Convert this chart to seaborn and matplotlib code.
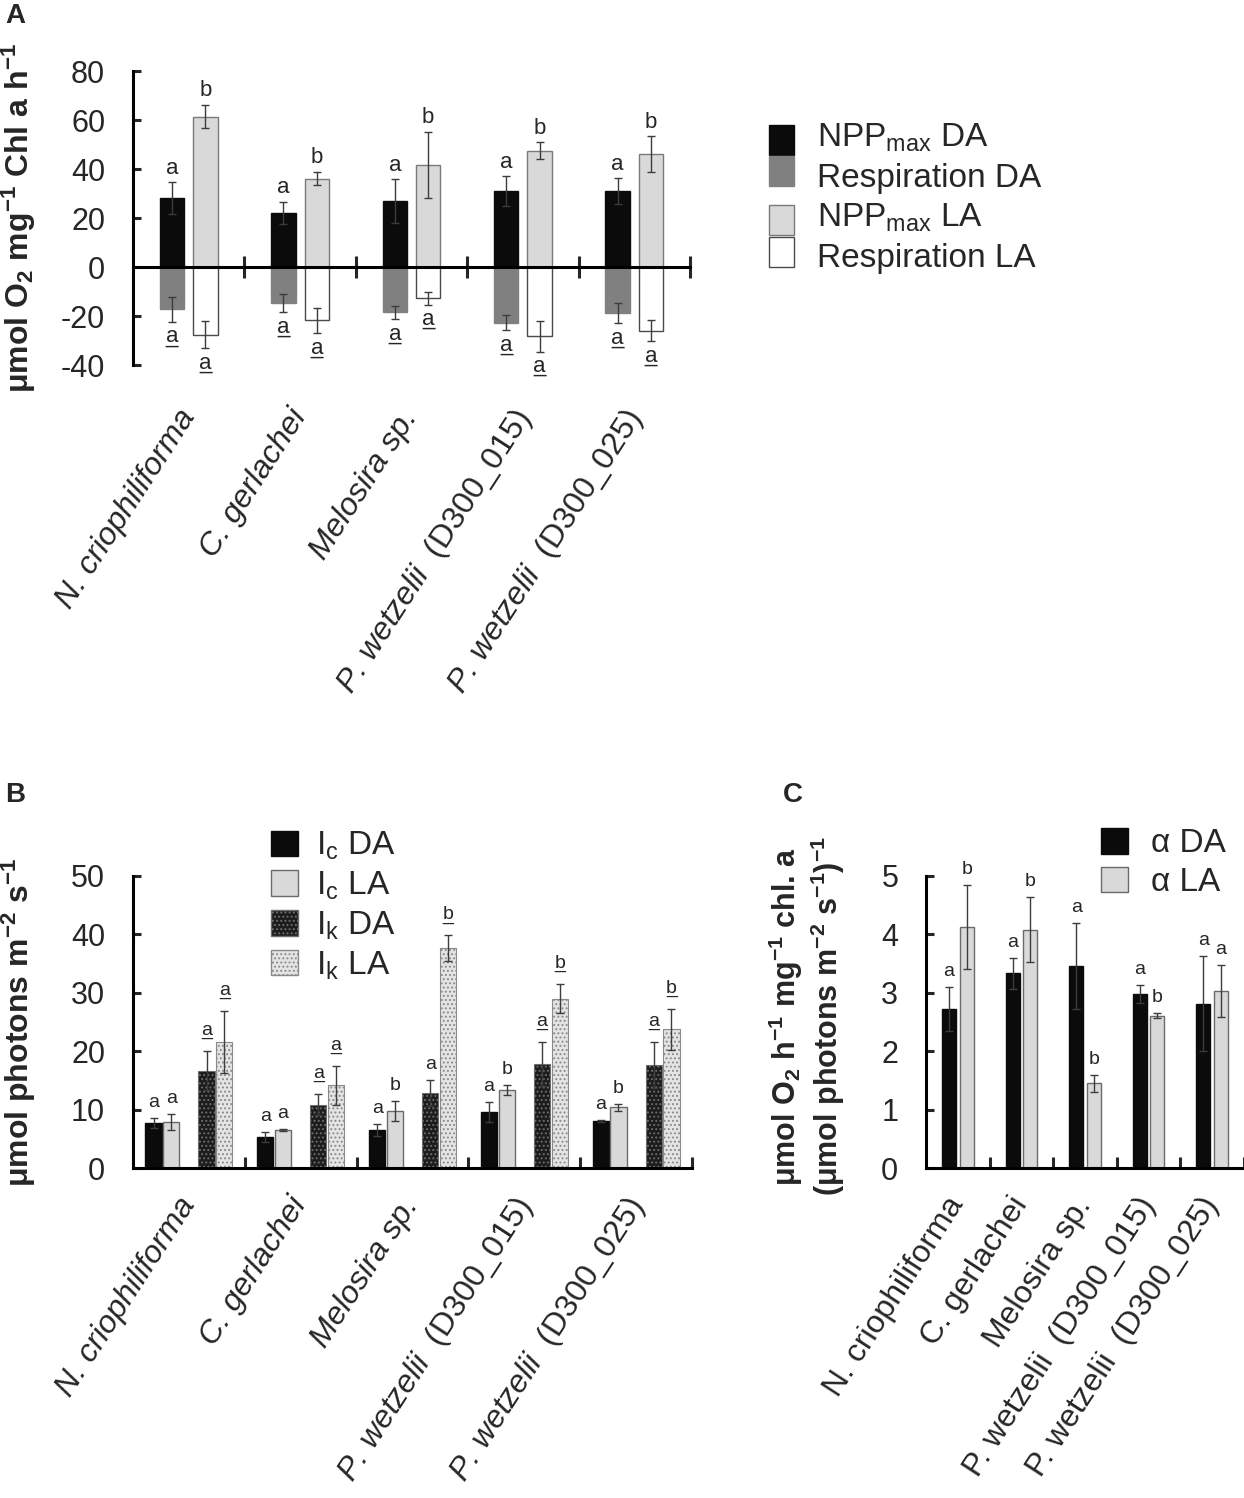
import matplotlib
matplotlib.use("Agg")
import matplotlib.pyplot as plt
import seaborn as sns
import pandas as pd
from matplotlib.patches import Patch, Rectangle
from matplotlib.legend_handler import HandlerPatch

# species on the x axis (italic part, then strain in brackets)
species = ["N. criophiliforma", "C. gerlachei", "Melosira sp.",
           "P. wetzelii  (D300_015)", "P. wetzelii  (D300_025)"]

# Panel A: NPPmax and respiration, dark (DA) / light (LA) acclimated
npp_da = [28.2, 22.2, 26.9, 31.0, 31.0]
npp_da_err = [6.5, 4.5, 9.0, 6.1, 5.3]
npp_la = [61.4, 36.1, 41.8, 47.5, 46.1]
npp_la_err = [4.8, 2.8, 13.5, 3.5, 7.4]
resp_da = [-17.3, -14.7, -18.5, -22.7, -18.8]
resp_da_err = [5.0, 3.7, 2.8, 3.0, 4.2]
resp_la = [-27.6, -21.8, -12.8, -28.3, -26.0]
resp_la_err = [5.5, 5.1, 2.5, 6.2, 4.3]
npp_da_sig = ["a", "a", "a", "a", "a"]
npp_la_sig = ["b", "b", "b", "b", "b"]
resp_da_sig = ["_a", "_a", "_a", "_a", "_a"]   # leading "_" = underlined
resp_la_sig = ["_a", "_a", "_a", "_a", "_a"]

# Panel B: Ic and Ik
ic_da = [7.7, 5.35, 6.55, 9.57, 8.14]
ic_da_err = [0.85, 0.8, 0.95, 1.7, 0.15]
ic_la = [7.86, 6.5, 9.74, 13.3, 10.4]
ic_la_err = [1.4, 0.15, 1.7, 0.85, 0.55]
ik_da = [16.7, 10.9, 12.9, 17.8, 17.7]
ik_da_err = [3.3, 1.8, 2.25, 3.8, 3.9]
ik_la = [21.6, 14.2, 37.6, 29.0, 23.8]
ik_la_err = [5.3, 3.3, 2.2, 2.45, 3.5]
ic_da_sig = ["a", "a", "a", "a", "a"]
ic_la_sig = ["a", "a", "b", "b", "b"]
ik_da_sig = ["_a", "_a", "a", "_a", "_a"]
ik_la_sig = ["_a", "_a", "_b", "_b", "_b"]

# Panel C: alpha
alpha_da = [2.72, 3.33, 3.46, 2.98, 2.81]
alpha_da_err = [0.37, 0.27, 0.73, 0.15, 0.81]
alpha_la = [4.12, 4.08, 1.45, 2.61, 3.03]
alpha_la_err = [0.72, 0.56, 0.14, 0.05, 0.44]
alpha_da_sig = ["a", "a", "a", "a", "a"]
alpha_la_sig = ["b", "b", "b", "b", "a"]

sns.set_style("ticks")
plt.rcParams["font.family"] = ["Liberation Sans", "DejaVu Sans"]
plt.rcParams["mathtext.fontset"] = "custom"
plt.rcParams["mathtext.rm"] = "Liberation Sans"
plt.rcParams["mathtext.it"] = "Liberation Sans:italic"
plt.rcParams["mathtext.bf"] = "Liberation Sans:bold"
plt.rcParams["mathtext.default"] = "regular"
plt.rcParams["axes.unicode_minus"] = False
plt.rcParams["hatch.linewidth"] = 0.9

BLACK = "#0b0b0b"
LIGHT = "#d9d9d9"
GREY = "#808080"
ERR = "#3c3c3c"


def cat_label(name, italic):
    if italic and "  (" in name:
        sp, strain = name.split("  (")
        return sp + "  $\\mathrm{(" + strain.replace("_", "\\_") + "}$"
    return name


def style_axis(ax, ylim, yticks, italic, label_dy):
    ax.set_ylim(*ylim)
    ax.set_yticks(yticks)
    ax.set_xlim(-0.5, len(species) - 0.5)
    ax.set_xticks([i + 0.5 for i in range(len(species))])
    ax.set_xticklabels([])
    ax.set_xlabel("")
    for s in ("top", "right"):
        ax.spines[s].set_visible(False)
    for s in ("left", "bottom"):
        ax.spines[s].set_linewidth(2.2)
        ax.spines[s].set_color("black")
    ax.tick_params(axis="y", direction="in", length=6, width=2.2,
                   labelsize=22, pad=20)
    ax.tick_params(axis="x", direction="in", length=8, width=2.2)
    for i, name in enumerate(species):
        ax.annotate(cat_label(name, italic), xy=(i, 0),
                    xycoords=("data", "axes fraction"),
                    xytext=(-9, label_dy), textcoords="offset points",
                    rotation=57, rotation_mode="anchor",
                    ha="right", va="top", fontsize=23,
                    fontstyle="italic" if italic else "normal")


def add_err(ax, bars, vals, errs):
    xs = [b.get_x() + b.get_width() / 2 for b in bars]
    ax.errorbar(xs, vals, yerr=errs, fmt="none", ecolor=ERR,
                elinewidth=1.0, capsize=3, capthick=1.0, zorder=5)


def add_letters(ax, bars, vals, errs, letters, size, pad):
    for b, v, e, t in zip(bars, vals, errs, letters):
        x = b.get_x() + b.get_width() / 2
        under = t.startswith("_")
        ch = t.lstrip("_")
        if v >= 0:
            y, dy = v + e, pad + (0.25 * size if under else 0)
        else:
            y, dy = v - e, -pad - 0.55 * size
        ax.annotate(ch, (x, y), xytext=(0, dy), textcoords="offset points",
                    ha="center", va="baseline", fontsize=size)
        if under:
            ax.annotate("_", (x, y), xytext=(0, dy),
                        textcoords="offset points",
                        ha="center", va="baseline", fontsize=size)


def shifted_patch(shift):
    # legend swatch nudged up/down so each DA/LA pair reads as one block
    def make(legend, orig_handle, xdescent, ydescent, width, height, fontsize):
        return Rectangle((-xdescent, -ydescent + shift * fontsize),
                         width, height)
    return make


fig = plt.figure(figsize=(12.44, 14.98), dpi=100)

# ---------------- Panel A ----------------
axA = fig.add_axes([0.1069, 0.7563, 0.4478, 0.1963])
dfA = pd.DataFrame({
    "species": species * 2,
    "accl": ["DA"] * 5 + ["LA"] * 5,
    "npp": npp_da + npp_la,
    "resp": resp_da + resp_la,
})
sns.barplot(data=dfA, x="species", y="npp", hue="accl", hue_order=["DA", "LA"],
            palette={"DA": BLACK, "LA": LIGHT}, width=0.6, gap=0.27,
            saturation=1, errorbar=None, legend=False, ax=axA)
sns.barplot(data=dfA, x="species", y="resp", hue="accl", hue_order=["DA", "LA"],
            palette={"DA": GREY, "LA": "white"}, width=0.6, gap=0.27,
            saturation=1, errorbar=None, legend=False, ax=axA)
cA = [c for c in axA.containers if len(c)]
for b in cA[0]:
    b.set_edgecolor(BLACK)
for b in cA[1]:
    b.set_edgecolor("#7a7a7a"); b.set_linewidth(1.0)
for b in cA[2]:
    b.set_edgecolor(GREY)
for b in cA[3]:
    b.set_edgecolor("#4a4a4a"); b.set_linewidth(1.0)

style_axis(axA, (-40, 80), [-40, -20, 0, 20, 40, 60, 80], True, -28)
axA.spines["bottom"].set_position(("data", 0))
axA.tick_params(axis="x", direction="inout", length=16)
axA.set_ylabel(r"μmol O$_2$ mg$^{-1}$ Chl a h$^{-1}$", fontsize=23,
               fontweight="bold")
axA.yaxis.set_label_coords(-0.17, 0.5)

for cont, vals, errs, sig in [(cA[0], npp_da, npp_da_err, npp_da_sig),
                              (cA[1], npp_la, npp_la_err, npp_la_sig),
                              (cA[2], resp_da, resp_da_err, resp_da_sig),
                              (cA[3], resp_la, resp_la_err, resp_la_sig)]:
    add_err(axA, cont, vals, errs)
    add_letters(axA, cont, vals, errs, sig, 16, 6)

hA = [Patch(fc=BLACK, ec=BLACK), Patch(fc=GREY, ec=GREY),
      Patch(fc=LIGHT, ec="#7a7a7a"), Patch(fc="white", ec="#4a4a4a")]
fig.legend(handles=hA,
           labels=[r"NPP$_{max}$ DA", "Respiration DA",
                   r"NPP$_{max}$ LA", "Respiration LA"],
           loc="upper left", bbox_to_anchor=(0.618, 1 - 120 / 1498),
           frameon=False, fontsize=24, borderpad=0, borderaxespad=0,
           handlelength=0.76, handleheight=1.0, handletextpad=0.7,
           labelspacing=0.2,
           handler_map={hA[0]: HandlerPatch(patch_func=shifted_patch(-0.14)),
                        hA[1]: HandlerPatch(patch_func=shifted_patch(0.12)),
                        hA[2]: HandlerPatch(patch_func=shifted_patch(-0.14)),
                        hA[3]: HandlerPatch(patch_func=shifted_patch(0.12))})

# ---------------- Panel B ----------------
axB = fig.add_axes([0.1069, 0.2201, 0.4494, 0.1953])
b_levels = ["Ic DA", "Ic LA", "gap", "Ik DA", "Ik LA"]
dfB = pd.DataFrame({
    "species": species * 4,
    "series": ["Ic DA"] * 5 + ["Ic LA"] * 5 + ["Ik DA"] * 5 + ["Ik LA"] * 5,
    "value": ic_da + ic_la + ik_da + ik_la,
})
sns.barplot(data=dfB, x="species", y="value", hue="series", hue_order=b_levels,
            palette={"Ic DA": BLACK, "Ic LA": LIGHT, "gap": "white",
                     "Ik DA": "#1c1c1c", "Ik LA": "#e4e4e4"},
            width=0.79, gap=0.08, saturation=1, errorbar=None, legend=False,
            ax=axB)
cB = [c for c in axB.containers if len(c)]
for b in cB[0]:
    b.set_edgecolor(BLACK)
for b in cB[1]:
    b.set_edgecolor("#6a6a6a"); b.set_linewidth(1.0)
for b in cB[2]:
    b.set_edgecolor("#6e6e6e"); b.set_hatch("...."); b.set_linewidth(0.8)
for b in cB[3]:
    b.set_edgecolor("#8a8a8a"); b.set_hatch("...."); b.set_linewidth(0.8)

style_axis(axB, (0, 50), [0, 10, 20, 30, 40, 50], True, -17)
axB.set_ylabel(r"μmol photons m$^{-2}$ s$^{-1}$", fontsize=23,
               fontweight="bold")
axB.yaxis.set_label_coords(-0.17, 0.5)

for cont, vals, errs, sig in [(cB[0], ic_da, ic_da_err, ic_da_sig),
                              (cB[1], ic_la, ic_la_err, ic_la_sig),
                              (cB[2], ik_da, ik_da_err, ik_da_sig),
                              (cB[3], ik_la, ik_la_err, ik_la_sig)]:
    add_err(axB, cont, vals, errs)
    add_letters(axB, cont, vals, errs, sig, 14, 8)

fig.legend(handles=[Patch(fc=BLACK, ec=BLACK),
                    Patch(fc=LIGHT, ec="#6a6a6a"),
                    Patch(fc="#1c1c1c", ec="#6e6e6e", hatch="...."),
                    Patch(fc="#e4e4e4", ec="#8a8a8a", hatch="....")],
           labels=[r"I$_c$ DA", r"I$_c$ LA", r"I$_k$ DA", r"I$_k$ LA"],
           loc="upper left", bbox_to_anchor=(0.218, 1 - 830 / 1498),
           frameon=False, fontsize=24, borderpad=0, borderaxespad=0,
           handlelength=0.8, handleheight=0.8, handletextpad=0.55,
           labelspacing=0.22)

# ---------------- Panel C ----------------
axC = fig.add_axes([0.7444, 0.2201, 0.2556, 0.1953])
dfC = pd.DataFrame({
    "species": species * 2,
    "accl": ["DA"] * 5 + ["LA"] * 5,
    "alpha": alpha_da + alpha_la,
})
sns.barplot(data=dfC, x="species", y="alpha", hue="accl", hue_order=["DA", "LA"],
            palette={"DA": BLACK, "LA": LIGHT}, width=0.555, gap=0.21,
            saturation=1, errorbar=None, legend=False, ax=axC)
cC = [c for c in axC.containers if len(c)]
for b in cC[0]:
    b.set_edgecolor(BLACK)
for b in cC[1]:
    b.set_edgecolor("#6a6a6a"); b.set_linewidth(1.0)

style_axis(axC, (0, 5), [0, 1, 2, 3, 4, 5], False, -17)
axC.set_ylabel("μmol O$_2$ h$^{-1}$ mg$^{-1}$ chl. a\n"
               "(μmol photons m$^{-2}$ s$^{-1}$)$^{-1}$",
               fontsize=22, fontweight="bold", linespacing=1.1)
axC.yaxis.set_label_coords(-0.25, 0.52)

for cont, vals, errs, sig in [(cC[0], alpha_da, alpha_da_err, alpha_da_sig),
                              (cC[1], alpha_la, alpha_la_err, alpha_la_sig)]:
    add_err(axC, cont, vals, errs)
    add_letters(axC, cont, vals, errs, sig, 14, 8)

fig.legend(handles=[Patch(fc=BLACK, ec=BLACK), Patch(fc=LIGHT, ec="#6a6a6a")],
           labels=["α DA", "α LA"], loc="upper left",
           bbox_to_anchor=(0.885, 1 - 828 / 1498), frameon=False, fontsize=24,
           borderpad=0, borderaxespad=0, handlelength=0.8, handleheight=0.8,
           handletextpad=0.7, labelspacing=0.22)

# panel letters
fig.text(0.004, 0.998, "A", fontsize=20, fontweight="bold", va="top")
fig.text(0.004, 1 - 782 / 1498, "B", fontsize=20, fontweight="bold", va="top")
fig.text(0.629, 1 - 782 / 1498, "C", fontsize=20, fontweight="bold", va="top")

fig.savefig("out.png", dpi=100)
